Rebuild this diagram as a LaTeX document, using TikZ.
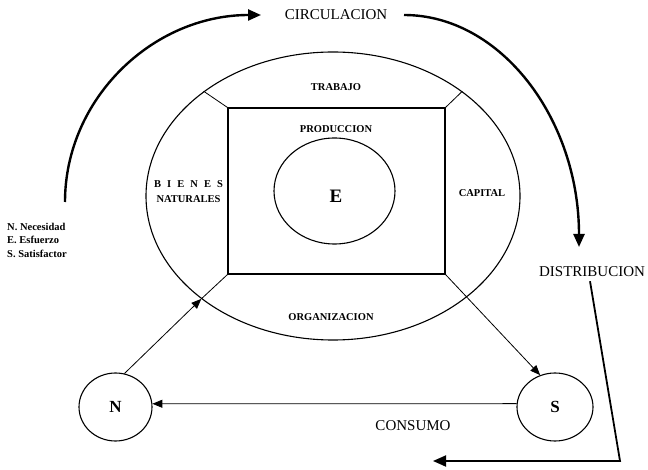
\documentclass[tikz,border=0pt]{standalone}
\usepackage{fontspec}
\setmainfont{Liberation Serif}
\usetikzlibrary{arrows.meta, positioning, shapes.geometric}

\begin{document}
\begin{tikzpicture}[x=1pt, y=-1pt,
    big/.style={font=\fontsize{15}{18}\selectfont, inner sep=0pt},
    lbl/.style={font=\fontsize{10.5}{15}\selectfont\bfseries, inner sep=0pt},
    ring/.style={draw, ellipse, line width=1.1pt, inner sep=0pt},
    letra/.style={font=\fontsize{17}{18}\selectfont\bfseries, inner sep=0pt},
    arr/.style={-{Triangle[length=10pt, width=8pt]}, line width=0.8pt},
    bigarr/.style={-{Triangle[length=13pt, width=11pt]}, line width=2.4pt}
]
\useasboundingbox (0,0) rectangle (648,470);

% economia
\node[ring, minimum width=374pt, minimum height=288pt] (eco) at (333,196) {};
\node[draw, line width=1.1pt, minimum width=217pt, minimum height=166pt] (prod) at (336.5,191) {};
\node[ring, minimum width=121pt, minimum height=106pt] (esf) at (334.5,191) {};
\node[letra, font=\fontsize{19}{20}\selectfont\bfseries] (E) at (336,196) {E};

\node[lbl] (trab) at (336,87) {TRABAJO};
\node[lbl] (prodlbl) at (336,129) {PRODUCCION};
\node[lbl, align=center] (bienes) at (188.5,192) {\makebox[69pt][s]{B I E N E S}\\NATURALES};
\node[lbl] (cap) at (482,193) {CAPITAL};
\node[lbl] (org) at (331,317) {ORGANIZACION};

\draw[line width=0.8pt] (prod.north west) -- (eco.141);
\draw[line width=0.8pt] (prod.north east) -- (eco.39);

% necesidad y satisfactor
\node[ring, minimum width=73pt, minimum height=68pt, letra] (N) at (115.5,407) {N};
\node[ring, minimum width=76pt, minimum height=68pt, letra] (S) at (555,407) {S};

\draw[arr] (N.75) -- (eco.218);
\draw[line width=0.8pt] (eco.218) -- (prod.south west);
\draw[arr] (prod.south east) -- (S.115);
\draw[arr] (S.175) -- (N.5);

% ciclo
\node[big] (circ) at (336,15) {CIRCULACION};
\node[big] (dist) at (592,272) {DISTRIBUCION};
\node[big] (cons) at (413,426) {CONSUMO};

\coordinate (cin) at (65,202);
\coordinate (cout) at (404,15);
\coordinate (dbend) at (620,461);
\coordinate (dend) at (433,461);

\draw[bigarr] (cin) arc[start angle=180, end angle=270, x radius=196, y radius=187];
\draw[bigarr] (cout) arc[start angle=270, end angle=360, x radius=175, y radius=232];
\draw[bigarr, line width=1.8pt] ([xshift=-2pt, yshift=-4pt]dist.south) -- (dbend) -- (dend);

\node[anchor=west, align=left, font=\fontsize{10.5}{13.5}\selectfont\bfseries, inner sep=0pt] (ley) at (7,240) {N. Necesidad\\E. Esfuerzo\\S. Satisfactor};
\end{tikzpicture}
\end{document}
